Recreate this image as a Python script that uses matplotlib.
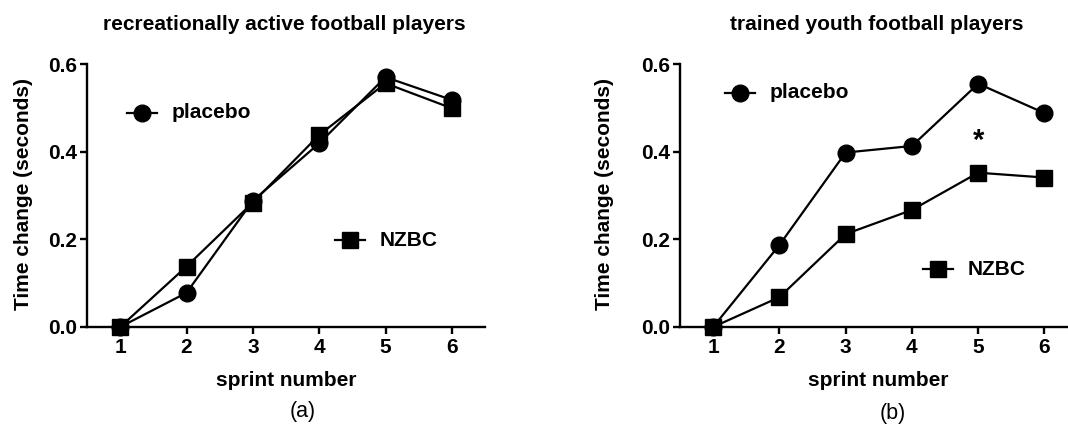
import matplotlib.pyplot as plt

plt.rcParams['font.family'] = ['Liberation Sans', 'DejaVu Sans']

sprints = [1, 2, 3, 4, 5, 6]

# panel (a): recreationally active players
placebo_a = [0.0, 0.078, 0.288, 0.419, 0.570, 0.518]
nzbc_a = [0.0, 0.138, 0.284, 0.438, 0.556, 0.499]

# panel (b): trained youth players
placebo_b = [0.0, 0.187, 0.398, 0.413, 0.555, 0.488]
nzbc_b = [0.0, 0.068, 0.212, 0.267, 0.352, 0.341]

y_ticks = [0.0, 0.2, 0.4, 0.6]
y_tick_labels = ['0.0', '0.2', '0.4', '0.6']

W, H = 1068, 425
fig = plt.figure(figsize=(W / 100, H / 100), dpi=100)
ax_a = fig.add_axes([87 / W, 1 - 327 / H, 398 / W, 263 / H])
ax_b = fig.add_axes([680 / W, 1 - 327 / H, 387 / W, 263 / H])

FS = 15


def style_axes(ax, xmax):
    ax.set_xlim(0.5, xmax)
    ax.set_ylim(0, 0.6)
    ax.spines['top'].set_visible(False)
    ax.spines['right'].set_visible(False)
    ax.spines['left'].set_linewidth(1.7)
    ax.spines['bottom'].set_linewidth(1.7)
    ax.set_xticks(sprints)
    ax.set_yticks(y_ticks)
    ax.set_yticklabels(y_tick_labels)
    ax.tick_params(axis='both', labelsize=FS, width=1.7, length=5)
    ax.tick_params(axis='y', pad=2)
    ax.tick_params(axis='x', pad=3)
    for lab in ax.get_xticklabels() + ax.get_yticklabels():
        lab.set_fontweight('bold')
    for sp in ax.spines.values():
        sp.set_clip_on(False)


for ax, pl, nz in [(ax_a, placebo_a, nzbc_a), (ax_b, placebo_b, nzbc_b)]:
    ax.plot(sprints, pl, color='black', lw=1.6, marker='o', ms=12, clip_on=False, zorder=3)
    ax.plot(sprints, nz, color='black', lw=1.6, marker='s', ms=12, clip_on=False, zorder=3)

style_axes(ax_a, 6.5)
style_axes(ax_b, 6.34)


# legend-like labels drawn in data coordinates
def legend_item(ax, x, y, marker, text):
    ax.plot([x - 0.23, x + 0.23], [y, y], color='black', lw=1.6, clip_on=False)
    ax.plot([x], [y], color='black', marker=marker, ms=12, clip_on=False)
    ax.text(x + 0.45, y, text, fontsize=FS, fontweight='bold', va='center', ha='left')


legend_item(ax_a, 1.33, 0.489, 'o', 'placebo')
legend_item(ax_a, 4.465, 0.198, 's', 'NZBC')
legend_item(ax_b, 1.405, 0.534, 'o', 'placebo')
legend_item(ax_b, 4.39, 0.132, 's', 'NZBC')

ax_b.text(5, 0.425, '*', fontsize=21, fontweight='bold', ha='center', va='center')

# titles, axis labels and panel captions
fig.text(284 / W, 1 - 25 / H, 'recreationally active football players',
         fontsize=FS, fontweight='bold', ha='center', va='center')
fig.text(877 / W, 1 - 25 / H, 'trained youth football players',
         fontsize=FS, fontweight='bold', ha='center', va='center')

for x_lab, x_y in [(286, 24), (878, 604)]:
    fig.text(x_lab / W, 1 - 380 / H, 'sprint number', fontsize=FS,
             fontweight='bold', ha='center', va='center')
    fig.text(x_y / W, 1 - 194 / H, 'Time change (seconds)', fontsize=FS,
             fontweight='bold', ha='center', va='center', rotation=90)

fig.text(303 / W, 1 - 412 / H, '(a)', fontsize=15.5, ha='center', va='center')
fig.text(893 / W, 1 - 413 / H, '(b)', fontsize=15.5, ha='center', va='center')

fig.savefig('out.png', dpi=100)
